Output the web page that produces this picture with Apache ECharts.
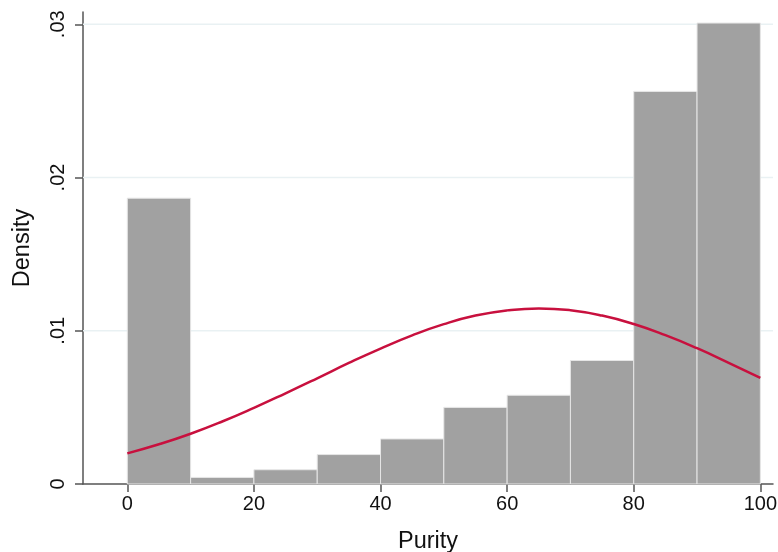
<!DOCTYPE html>
<html>
<head>
<meta charset="utf-8">
<script src="https://cdn.jsdelivr.net/npm/echarts@6/dist/echarts.min.js"></script>
<style>
  html, body { margin: 0; padding: 0; background: #fff; }
  #chart { width: 778px; height: 552px; }
</style>
</head>
<body>
<div id="chart"></div>
<script>
// histogram bins (Purity) and their densities
var binStart = [0, 10, 20, 30, 40, 50, 60, 70, 80, 90];
var binEnd = [10, 20, 30, 40, 50, 60, 70, 80, 90, 100];
var density = [0.01865, 0.00043, 0.00093, 0.00192, 0.00294, 0.00500, 0.00579, 0.00806, 0.02562, 0.03008];

// normal density overlay
var curveX = [0, 5, 10, 15, 20, 25, 30, 35, 40, 45, 50, 55, 60, 65, 70, 75, 80, 85, 90, 95, 100];
var curveY = [0.00200, 0.00259, 0.00328, 0.00408, 0.00497, 0.00592, 0.00690, 0.00790, 0.00884, 0.00970,
              0.01043, 0.01099, 0.01133, 0.01146, 0.01134, 0.01099, 0.01044, 0.00971, 0.00886, 0.00791, 0.00692];

// tick labels
var xTicks = [0, 20, 40, 60, 80, 100];
var yTicks = [0, 0.01, 0.02, 0.03];

document.addEventListener("DOMContentLoaded", function () {
  var myChart = echarts.init(document.getElementById("chart"));

  var barData = binStart.map(function (s, i) { return [s, binEnd[i], density[i]]; });
  var curveData = curveX.map(function (x, i) { return [x, curveY[i]]; });
  var gridData = yTicks.filter(function (v) { return v > 0; }).map(function (v) { return [v]; });
  var axisColor = "#555555";
  var font = "Liberation Sans, Arial, sans-serif";

  var option = {
    animation: false,
    backgroundColor: "#ffffff",
    grid: { left: 83, right: 5, top: 12, bottom: 68, outerBoundsMode: "none", containLabel: false },
    xAxis: {
      type: "value",
      min: -7,
      max: 102,
      name: "Purity",
      nameLocation: "middle",
      nameGap: 46,
      nameTextStyle: { fontFamily: font, fontSize: 23.5, color: "#111" },
      axisLine: { show: true, onZero: false, lineStyle: { color: axisColor, width: 1.5 } },
      axisTick: { show: true, length: 8, customValues: xTicks, lineStyle: { color: axisColor, width: 1.5 } },
      axisLabel: { customValues: xTicks, fontFamily: font, fontSize: 20, color: "#111", margin: 10 },
      splitLine: { show: false },
    },
    yAxis: {
      type: "value",
      min: 0,
      max: 0.0308,
      name: "Density",
      nameLocation: "middle",
      nameGap: 48,
      nameRotate: 90,
      nameTextStyle: { fontFamily: font, fontSize: 23.5, color: "#111" },
      axisLine: { show: true, onZero: false, lineStyle: { color: axisColor, width: 1.5 } },
      axisTick: { show: true, length: 8, customValues: yTicks, lineStyle: { color: axisColor, width: 1.5 } },
      axisLabel: {
        customValues: yTicks,
        rotate: 90,
        fontFamily: font,
        fontSize: 20,
        color: "#111",
        margin: 15,
        formatter: function (v) { return v === 0 ? "0" : v.toFixed(2).replace(/^0/, ""); },
      },
      splitLine: { show: false },
    },
    series: [
      {
        // horizontal gridlines, drawn behind the bars
        type: "custom",
        z: 1,
        silent: true,
        data: gridData,
        renderItem: function (params, api) {
          var cs = params.coordSys;
          var p = api.coord([0, api.value(0)]);
          return {
            type: "line",
            shape: { x1: cs.x, y1: p[1], x2: cs.x + cs.width, y2: p[1] },
            style: { stroke: "#e9f1f3", lineWidth: 1.5 },
          };
        },
      },
      {
        type: "custom",
        z: 2,
        data: barData,
        renderItem: function (params, api) {
          var p0 = api.coord([api.value(0), api.value(2)]);
          var p1 = api.coord([api.value(1), 0]);
          return {
            type: "rect",
            shape: { x: p0[0], y: p0[1], width: p1[0] - p0[0], height: p1[1] - p0[1] },
            style: { fill: "#a1a1a1", stroke: "#e6e6e6", lineWidth: 1 },
          };
        },
      },
      {
        type: "line",
        z: 3,
        data: curveData,
        smooth: true,
        showSymbol: false,
        lineStyle: { color: "#c8103e", width: 2.5 },
      },
    ],
  };

  myChart.setOption(option);
});
</script>
</body>
</html>
